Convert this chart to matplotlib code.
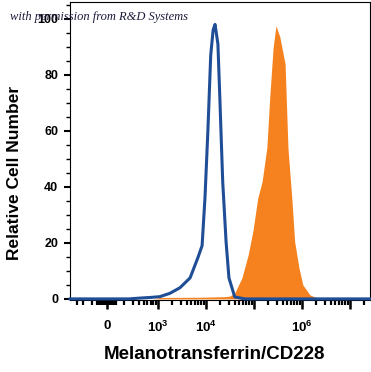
import math
import matplotlib.pyplot as plt

plt.rcParams['font.family'] = ['Liberation Sans', 'DejaVu Sans']
plt.rcParams['mathtext.fontset'] = 'custom'
plt.rcParams['mathtext.rm'] = 'Liberation Sans:bold'
plt.rcParams['mathtext.it'] = 'Liberation Sans:bold'
plt.rcParams['mathtext.bf'] = 'Liberation Sans:bold'

# x values are in display decades (10^3 -> 3, 10^4 -> 4, ...), y is relative cell number
isotype_x = [1.17, 2.40, 2.63, 2.83, 3.04, 3.25, 3.46, 3.67, 3.83, 3.92, 3.98, 4.04,
             4.10, 4.15, 4.19, 4.25, 4.29, 4.35, 4.42, 4.48, 4.60, 4.81, 7.42]
isotype_y = [0, 0, 0.3, 0.5, 0.8, 2.0, 4.0, 7.5, 14.6, 19.0, 36.0, 59.6,
             87.0, 96.0, 98.0, 91.0, 71.8, 41.8, 20.4, 7.5, 0.7, 0, 0]

stained_x = [2.90, 3.04, 3.88, 4.40, 4.50, 4.60, 4.75, 4.88, 4.98, 5.08, 5.17, 5.27,
             5.33, 5.40, 5.46, 5.54, 5.65, 5.71, 5.79, 5.85, 5.94, 6.02, 6.17, 6.33, 6.48]
stained_y = [0, 0.5, 0.6, 0.8, 1.0, 2.1, 7.5, 15.7, 24.3, 36.0, 41.8, 54.0,
             71.8, 89.6, 97.5, 93.6, 83.9, 53.9, 36.0, 20.4, 11.0, 5.0, 1.4, 0.3, 0]

x_tick_pos = [1.94, 3, 4, 5, 6, 7]
x_tick_labels = ['0', r'$10^{3}$', r'$10^{4}$', '', r'$10^{6}$', '']
y_ticks = [0, 20, 40, 60, 80, 100]

fig = plt.figure(figsize=(3.71, 3.72), dpi=100)
ax = fig.add_axes([0.1887, 0.1935, 0.8086, 0.8011])

ax.fill_between(stained_x, stained_y, color='#f5821f', lw=0, zorder=2)
ax.plot(isotype_x, isotype_y, color='#1f4e96', lw=2.2, zorder=3, clip_on=False)

ax.set_xlim(1.167, 7.42)
ax.set_ylim(-0.4, 106)

# minor tick marks: logicle-like, dense around zero, log decades above
minor = [1.31, 1.44, 1.625]
minor += [1.73 + 0.03 * i for i in range(14)]
for n in range(2, 7):
    for k in range(2, 10):
        minor.append(n + math.log10(k))
minor.append(7.3)
ax.set_xticks(x_tick_pos)
ax.set_xticklabels(x_tick_labels)
ax.set_xticks(minor, minor=True)
ax.set_yticks(y_ticks)
ax.set_yticks(range(0, 106, 5), minor=True)

ax.tick_params(axis='x', which='major', length=6.5, width=1.8, pad=8, labelsize=9.5)
ax.tick_params(axis='x', which='minor', length=3.5, width=1.6)
ax.tick_params(axis='y', which='major', length=4.5, width=1.5, pad=4, labelsize=9)
ax.tick_params(axis='y', which='minor', length=3, width=1)
for lab in ax.get_yticklabels() + ax.get_xticklabels():
    lab.set_fontweight('bold')

for s in ax.spines.values():
    s.set_linewidth(0.8)

ax.set_ylabel('Relative Cell Number', fontsize=12.5, fontweight='bold')
ax.yaxis.set_label_coords(-0.16, 0.426)
ax.set_xlabel('Melanotransferrin/CD228', fontsize=13.5, fontweight='bold')
ax.xaxis.set_label_coords(0.483, -0.155)

fig.text(0.027, 0.946, 'with permission from R&D Systems', fontfamily='Liberation Serif',
         style='italic', fontsize=9, color='#1c1c3c', va='baseline')

fig.savefig('out.png', dpi=100)
